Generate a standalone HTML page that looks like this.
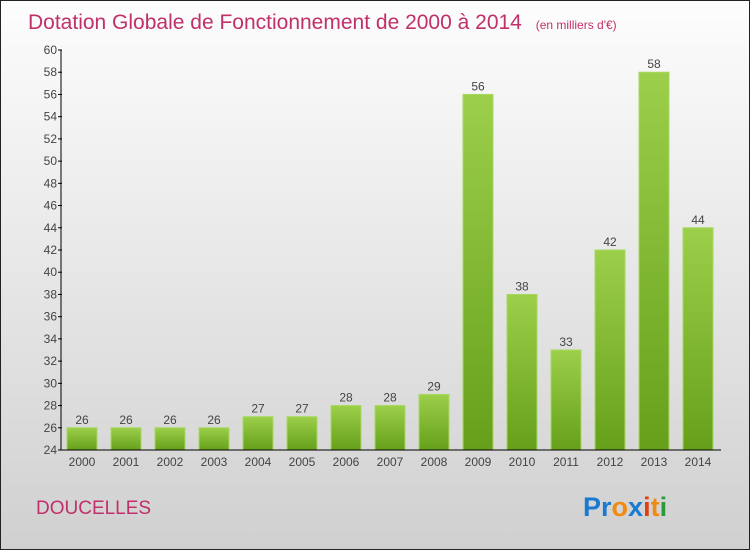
<!DOCTYPE html>
<html><head><meta charset="utf-8"><style>
body{margin:0}
svg{display:block;font-family:"Liberation Sans",sans-serif}
</style></head><body>
<svg id="c" width="750" height="550">
<defs>
<linearGradient id="bg" x1="0" y1="0" x2="0" y2="1"><stop offset="0" stop-color="#fdfdfd"/><stop offset="1" stop-color="#d0d0d0"/></linearGradient>
<linearGradient id="bar" x1="0" y1="0" x2="0" y2="1"><stop offset="0" stop-color="#9ccf4a"/><stop offset="1" stop-color="#66a01a"/></linearGradient>
</defs>
<rect x="0.5" y="0.5" width="749" height="549" fill="url(#bg)" stroke="#222"/>
<text x="28" y="29" font-size="21" fill="#c0306a">Dotation Globale de Fonctionnement de 2000 à 2014 <tspan font-size="12" dx="8">(en milliers d'€)</tspan></text>
<text x="36" y="514" font-size="19" fill="#c0306a">DOUCELLES</text>
<text x="583" y="516" font-size="27" font-weight="bold"><tspan fill="#1a7ad0">Pr</tspan><tspan fill="#f08a10">o</tspan><tspan fill="#1a7ad0">x</tspan><tspan fill="#e04010">i</tspan><tspan fill="#f08a10">t</tspan><tspan fill="#2a9a3a">i</tspan></text>
<g id="g"></g>
</svg>
<script>
const years=["2000","2001","2002","2003","2004","2005","2006","2007","2008","2009","2010","2011","2012","2013","2014"];
const values=[26,26,26,26,27,27,28,28,29,56,38,33,42,58,44];
const yTicks=[24,26,28,30,32,34,36,38,40,42,44,46,48,50,52,54,56,58,60];
const NS="http://www.w3.org/2000/svg",g=document.getElementById('g');
const y=v=>450-(v-24)*(400/36);
const x=i=>82+i*44;
function mk(t,a,txt){const e=document.createElementNS(NS,t);for(const k in a)e.setAttribute(k,a[k]);if(txt!=null)e.textContent=txt;g.appendChild(e);return e;}
years.forEach((yr,i)=>{
 const b=mk('rect',{x:x(i)-15,y:y(values[i]),width:30,height:450-y(values[i]),fill:'url(#bar)',stroke:'#a8d860','stroke-width':1});
 
 
 const l=mk('text',{x:x(i),y:y(values[i])-4,'font-size':12,'text-anchor':'middle',fill:'#444'},values[i]);
 
 
 const t=mk('text',{x:x(i),y:466,'font-size':12,'text-anchor':'middle',fill:'#444'},yr);
 
 
});
yTicks.forEach(v=>{
 mk('line',{x1:58,x2:62,y1:y(v),y2:y(v),stroke:'#000'});
 const t=mk('text',{x:57,y:y(v)+4,'font-size':12,'text-anchor':'end',fill:'#444'},v);
 
 
});
const ya=mk('line',{x1:61,x2:61,y1:50,y2:450,stroke:'#000'});


const xa=mk('line',{x1:61,x2:721,y1:450,y2:450,stroke:'#000'});


</script>
</body></html>
